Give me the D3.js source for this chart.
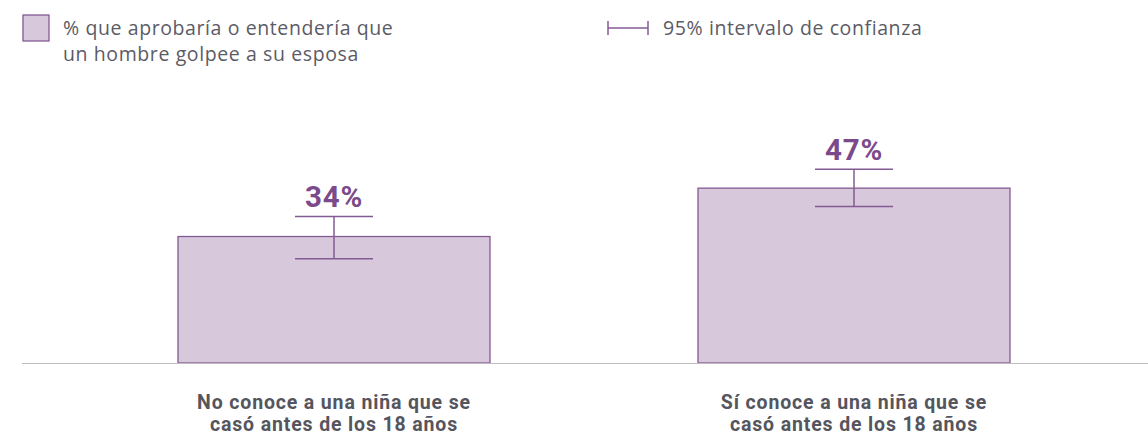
<!DOCTYPE html>
<html>
<head>
<meta charset="utf-8">
<script src="https://d3js.org/d3.v7.min.js"></script>
<style>
  body { margin: 0; background: #fff; }
  .legend { font-family: "Open Sans", sans-serif; font-size: 19.5px; letter-spacing: 0.6px; fill: #5b5b66; }
  .cat { font-family: Roboto, sans-serif; font-weight: 700; font-size: 19.5px; letter-spacing: 0.85px; fill: #55555e; }
  .val { font-family: Roboto, sans-serif; font-weight: 700; font-size: 29.5px; letter-spacing: 0.8px; fill: #7b4a8b; }
</style>
</head>
<body>
<svg width="1148" height="435"></svg>
<script>
  // data
  var categories = ["No conoce a una niña que se|casó antes de los 18 años",
                    "Sí conoce a una niña que se|casó antes de los 18 años"];
  var values = [34, 47];
  var ciLow = [28.0, 42.1];
  var ciHigh = [39.4, 52.1];
  var legendLines = ["% que aprobaría o entendería que", "un hombre golpee a su esposa"];
  var ciLabel = "95% intervalo de confianza";

  var purple = "#845a94", fillCol = "#d7c8dc";

  var svg = d3.select("svg");

  var x = d3.scaleBand()
      .domain(categories)
      .range([74, 1114])
      .paddingInner(0.4)
      .paddingOuter(0.2);

  var y = d3.scaleLinear()
      .domain([0, 100])
      .range([363, 363 - 372]);

  // bars
  svg.selectAll("rect.bar")
      .data(categories)
      .enter().append("rect")
      .attr("class", "bar")
      .attr("x", function (d) { return x(d); })
      .attr("width", x.bandwidth())
      .attr("y", function (d, i) { return y(values[i]); })
      .attr("height", function (d, i) { return y(0) - y(values[i]); })
      .attr("fill", fillCol)
      .attr("stroke", purple)
      .attr("stroke-width", 1.3);

  // baseline
  svg.append("line")
      .attr("x1", 22).attr("x2", 1148)
      .attr("y1", y(0) + 0.5).attr("y2", y(0) + 0.5)
      .attr("stroke", "#bdbdbd").attr("stroke-width", 1);

  // error bars
  var capW = 78;
  var eb = svg.selectAll("g.ci")
      .data(categories)
      .enter().append("g")
      .attr("class", "ci")
      .attr("stroke", purple)
      .attr("stroke-width", 1.5);
  eb.append("line")
      .attr("x1", function (d) { return x(d) + x.bandwidth() / 2; })
      .attr("x2", function (d) { return x(d) + x.bandwidth() / 2; })
      .attr("y1", function (d, i) { return y(ciHigh[i]); })
      .attr("y2", function (d, i) { return y(ciLow[i]); });
  eb.append("line")
      .attr("x1", function (d) { return x(d) + x.bandwidth() / 2 - capW / 2; })
      .attr("x2", function (d) { return x(d) + x.bandwidth() / 2 + capW / 2; })
      .attr("y1", function (d, i) { return y(ciHigh[i]); })
      .attr("y2", function (d, i) { return y(ciHigh[i]); });
  eb.append("line")
      .attr("x1", function (d) { return x(d) + x.bandwidth() / 2 - capW / 2; })
      .attr("x2", function (d) { return x(d) + x.bandwidth() / 2 + capW / 2; })
      .attr("y1", function (d, i) { return y(ciLow[i]); })
      .attr("y2", function (d, i) { return y(ciLow[i]); });

  // value labels
  svg.selectAll("text.val")
      .data(categories)
      .enter().append("text")
      .attr("class", "val")
      .attr("text-anchor", "middle")
      .attr("x", function (d) { return x(d) + x.bandwidth() / 2; })
      .attr("y", function (d, i) { return y(ciHigh[i]) - 9.5; })
      .text(function (d, i) { return values[i] + "%"; });

  // category labels
  var cat = svg.selectAll("text.cat")
      .data(categories)
      .enter().append("text")
      .attr("class", "cat")
      .attr("text-anchor", "middle")
      .attr("x", function (d) { return x(d) + x.bandwidth() / 2; })
      .attr("y", 408.5);
  cat.selectAll("tspan")
      .data(function (d) { return d.split("|"); })
      .enter().append("tspan")
      .attr("x", function () { return this.parentNode.getAttribute("x"); })
      .attr("dy", function (d, i) { return i ? 22 : 0; })
      .text(function (d) { return d; });

  // legend
  svg.append("rect")
      .attr("x", 23).attr("y", 15)
      .attr("width", 26).attr("height", 26)
      .attr("fill", fillCol).attr("stroke", purple).attr("stroke-width", 1.3);
  svg.selectAll("text.leg")
      .data(legendLines)
      .enter().append("text")
      .attr("class", "legend")
      .attr("x", 63)
      .attr("y", function (d, i) { return 35 + i * 26; })
      .text(function (d) { return d; });

  var lg = svg.append("g").attr("stroke", purple).attr("stroke-width", 1.5);
  lg.append("line").attr("x1", 608).attr("x2", 608).attr("y1", 21).attr("y2", 35);
  lg.append("line").attr("x1", 648).attr("x2", 648).attr("y1", 21).attr("y2", 35);
  lg.append("line").attr("x1", 608).attr("x2", 648).attr("y1", 28).attr("y2", 28);
  svg.append("text")
      .attr("class", "legend")
      .attr("x", 663).attr("y", 35)
      .text(ciLabel);
</script>
</body>
</html>
